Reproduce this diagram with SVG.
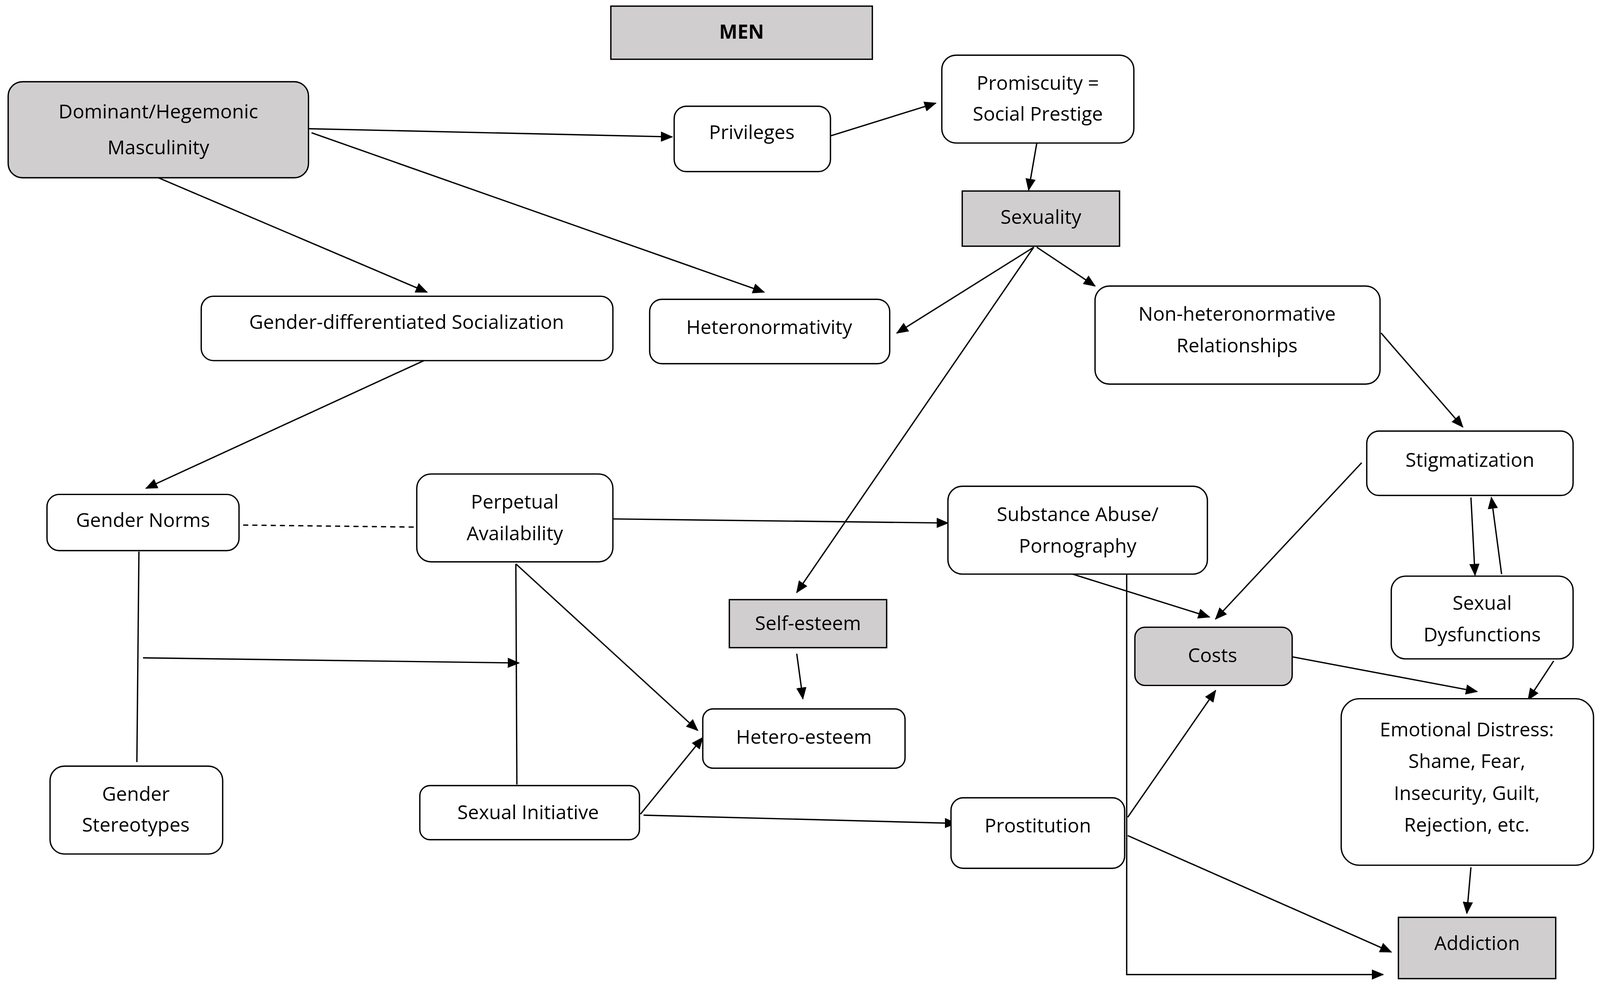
<svg xmlns="http://www.w3.org/2000/svg" width="4159" height="2565" viewBox="0 0 4159 2565">
<style>
.n{fill:#fff;stroke:#000;stroke-width:1.3}
.g{fill:#d0cece;stroke:#000;stroke-width:1.3}
text{font-family:"Open Sans","Liberation Sans",sans-serif;font-size:19px;text-anchor:middle;fill:#000}
.b{font-weight:bold}
.e{stroke:#000;stroke-width:1.3;fill:none}
.a{marker-end:url(#ah)}
</style>
<defs><marker id="ah" markerUnits="userSpaceOnUse" markerWidth="12" markerHeight="10" refX="11" refY="5" orient="auto"><path d="M0,0L12,5L0,10z" fill="#000"/></marker></defs>
<rect width="4159" height="2565" fill="#fff"/>
<g transform="scale(2.615)">
<g id="connectors">
<path class="e a" d="M302,126L658,134"/>
<path class="e a" d="M813,133L916,101"/>
<path class="e a" d="M1015,140L1007,186"/>
<path class="e a" d="M155,174L418,286"/>
<path class="e a" d="M305,130L748,286"/>
<path class="e a" d="M1012,242L878,326"/>
<path class="e a" d="M1015,242L1072,280"/>
<path class="e a" d="M1012,242L780,580"/>
<path class="e a" d="M415,353L143,478"/>
<path class="e a" d="M1352,326L1432,418"/>
<path class="e a" d="M1333,453L1190,606"/>
<path class="e a" d="M1440,487L1444,563"/>
<path class="e a" d="M1470,562L1460,487"/>
<path class="e" stroke-dasharray="5,4" d="M238,514L408,516"/>
<path class="e a" d="M600,508L928,512"/>
<path class="e" d="M505,552L506,768"/>
<path class="e a" d="M505,552L683,715"/>
<path class="e" d="M136,540L134,746"/>
<path class="e a" d="M140,644L508,649"/>
<path class="e a" d="M780,640L786,684"/>
<path class="e a" d="M627,797L688,722"/>
<path class="e a" d="M630,798L936,806"/>
<path class="e a" d="M1050,562L1184,604"/>
<path class="e a" d="M1265,643L1446,677"/>
<path class="e a" d="M1521,647L1496,685"/>
<path class="e a" d="M1104,800L1190,676"/>
<path class="e a" d="M1104,818L1362,932"/>
<path class="e a" d="M1103,562L1103,954L1354,954"/>
<path class="e a" d="M1440,849L1436,894"/>
</g>
<g id="men"><rect class="g" x="598" y="6" width="256" height="52"/><text class="b" x="726" y="38">MEN</text></g>
<g id="dominant"><rect class="g" x="8" y="80" width="294" height="94" rx="14"/><text x="155" y="116">Dominant/Hegemonic</text><text x="155" y="151">Masculinity</text></g>
<g id="privileges"><rect class="n" x="660" y="104" width="153" height="64" rx="12"/><text x="736" y="136">Privileges</text></g>
<g id="promiscuity"><rect class="n" x="922" y="54" width="188" height="86" rx="14"/><text x="1016" y="88">Promiscuity =</text><text x="1016" y="118">Social Prestige</text></g>
<g id="sexuality"><rect class="g" x="942" y="187" width="154" height="54"/><text x="1019" y="219">Sexuality</text></g>
<g id="socialization"><rect class="n" x="197" y="290" width="403" height="63" rx="12"/><text x="398" y="322">Gender-differentiated Socialization</text></g>
<g id="heteronormativity"><rect class="n" x="636" y="293" width="235" height="63" rx="12"/><text x="753" y="327">Heteronormativity</text></g>
<g id="nonhetero"><rect class="n" x="1072" y="280" width="279" height="96" rx="14"/><text x="1211" y="314">Non-heteronormative</text><text x="1211" y="345">Relationships</text></g>
<g id="stigmatization"><rect class="n" x="1338" y="422" width="202" height="63" rx="12"/><text x="1439" y="457">Stigmatization</text></g>
<g id="gendernorms"><rect class="n" x="46" y="484" width="188" height="55" rx="12"/><text x="140" y="516">Gender Norms</text></g>
<g id="perpetual"><rect class="n" x="408" y="464" width="192" height="86" rx="14"/><text x="504" y="498">Perpetual</text><text x="504" y="529">Availability</text></g>
<g id="substance"><rect class="n" x="928" y="476" width="254" height="86" rx="14"/><text x="1055" y="510">Substance Abuse/</text><text x="1055" y="541">Pornography</text></g>
<g id="selfesteem"><rect class="g" x="714" y="587" width="154" height="47"/><text x="791" y="617">Self-esteem</text></g>
<g id="costs"><rect class="g" x="1111" y="614" width="154" height="57" rx="10"/><text x="1187" y="648">Costs</text></g>
<g id="dysfunctions"><rect class="n" x="1362" y="564" width="178" height="81" rx="14"/><text x="1451" y="597">Sexual</text><text x="1451" y="628">Dysfunctions</text></g>
<g id="heteroesteem"><rect class="n" x="688" y="694" width="198" height="58" rx="10"/><text x="787" y="728">Hetero-esteem</text></g>
<g id="emotional"><rect class="n" x="1313" y="684" width="247" height="163" rx="18"/><text x="1436" y="721">Emotional Distress:</text><text x="1436" y="752">Shame, Fear,</text><text x="1436" y="783">Insecurity, Guilt,</text><text x="1436" y="814">Rejection, etc.</text></g>
<g id="stereotypes"><rect class="n" x="49" y="750" width="169" height="86" rx="14"/><text x="133" y="784">Gender</text><text x="133" y="814">Stereotypes</text></g>
<g id="initiative"><rect class="n" x="411" y="769" width="215" height="53" rx="10"/><text x="517" y="802">Sexual Initiative</text></g>
<g id="prostitution"><rect class="n" x="931" y="781" width="170" height="69" rx="12"/><text x="1016" y="815">Prostitution</text></g>
<g id="addiction"><rect class="g" x="1369" y="898" width="154" height="60"/><text x="1446" y="930">Addiction</text></g>
</g>
</svg>
